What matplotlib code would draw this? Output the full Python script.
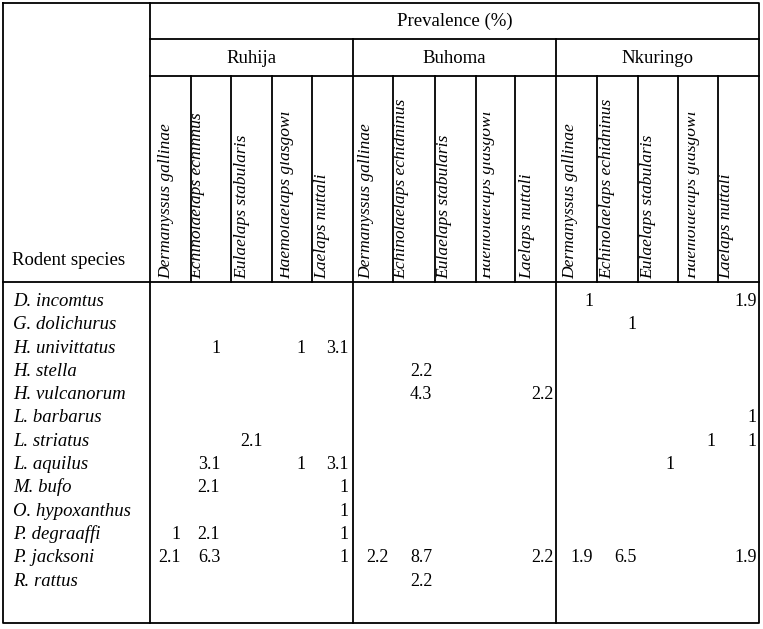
import matplotlib
matplotlib.use("Agg")
import matplotlib.pyplot as plt
import numpy as np
from matplotlib.transforms import Bbox, TransformedBbox

# ---------------- data ----------------
title = "Prevalence (%)"
row_header = "Rodent species"
sites = ["Ruhija", "Buhoma", "Nkuringo"]
mites = ["Dermanyssus gallinae", "Echinolaelaps echidninus", "Eulaelaps stabularis",
         "Haemolaelaps glasgowi", "Laelaps nuttali"]
mites_ruhija = ["Dermanyssus gallinae", "Echinolaelaps echinnus", "Eulaelaps stabularis",
                "Haemolaelaps glasgowi", "Laelaps nuttali"]
rodents = ["D. incomtus", "G. dolichurus", "H. univittatus", "H. stella", "H. vulcanorum",
           "L. barbarus", "L. striatus", "L. aquilus", "M. bufo", "O. hypoxanthus",
           "P. degraaffi", "P. jacksoni", "R. rattus"]
N = None
# columns: Dermanyssus, Echinolaelaps, Eulaelaps, Haemolaelaps, Laelaps
ruhija = [
    [N, N, N, N, N],
    [N, N, N, N, N],
    [N, 1, N, 1, 3.1],
    [N, N, N, N, N],
    [N, N, N, N, N],
    [N, N, N, N, N],
    [N, N, 2.1, N, N],
    [N, 3.1, N, 1, 3.1],
    [N, 2.1, N, N, 1],
    [N, N, N, N, 1],
    [1, 2.1, N, N, 1],
    [2.1, 6.3, N, N, 1],
    [N, N, N, N, N],
]
buhoma = [
    [N, N, N, N, N],
    [N, N, N, N, N],
    [N, N, N, N, N],
    [N, 2.2, N, N, N],
    [N, 4.3, N, N, 2.2],
    [N, N, N, N, N],
    [N, N, N, N, N],
    [N, N, N, N, N],
    [N, N, N, N, N],
    [N, N, N, N, N],
    [N, N, N, N, N],
    [2.2, 8.7, N, N, 2.2],
    [N, 2.2, N, N, N],
]
nkuringo = [
    [1, N, N, N, 1.9],
    [N, 1, N, N, N],
    [N, N, N, N, N],
    [N, N, N, N, N],
    [N, N, N, N, N],
    [N, N, N, N, 1],
    [N, N, N, 1, 1],
    [N, N, 1, N, N],
    [N, N, N, N, N],
    [N, N, N, N, N],
    [N, N, N, N, N],
    [1.9, 6.5, N, N, 1.9],
    [N, N, N, N, N],
]
site_data = [ruhija, buhoma, nkuringo]

# ---------------- layout (pixels) ----------------
W, H = 763, 629
x_left, x_right = 3, 759
y_top, y_bot = 3, 623
x_rod = 150
site_edges = [150, 353, 555.7, 759]
col_edges = [
    [150, 190.7, 230.7, 271.7, 311.7, 352.7],
    [352.7, 393.3, 435, 475.7, 515, 555.7],
    [555.7, 597.3, 638.3, 677.7, 718.3, 759],
]
y_prev = 39
y_site = 76
y_head = 282
# baseline offset of rotated label from column left edge, and clip offset
lab_base = [
    [20, 11, 16, 18, 15],
    [18, 12, 13, 15, 16],
    [19, 14, 14, 18, 12],
]
lab_clip = [
    [1, 0.5, 1, 8.5, 1],
    [1, 0.5, 1, 7.5, 1],
    [1, 0.5, 1, 10.5, 1],
]
num_right = [
    [10, 10.5, 8.5, 6.5, 4],
    [5, 2.5, 3, 3, 2.5],
    [4, 2, 3, 3, 2],
]
row0 = 300
drow = 23.3

serif = ["Liberation Serif", "DejaVu Serif"]
lw = 1.3
fs_big = 13.5
fs_lab = 12.6
fs_num = 13

fig = plt.figure(figsize=(W / 100, H / 100), dpi=100)
ax = fig.add_axes([0, 0, 1, 1])
ax.set_xlim(0, W)
ax.set_ylim(H, 0)
ax.axis("off")

k = dict(color="black", lw=lw, solid_capstyle="projecting")
# outer border
ax.plot([x_left, x_right, x_right, x_left, x_left], [y_top, y_top, y_bot, y_bot, y_top], **k)
ax.plot([x_rod, x_rod], [y_top, y_bot], **k)
ax.plot([x_rod, x_right], [y_prev, y_prev], **k)
ax.plot([x_rod, x_right], [y_site, y_site], **k)
ax.plot([x_left, x_right], [y_head, y_head], **k)
for e in site_edges[1:-1]:
    ax.plot([e, e], [y_prev, y_bot], **k)
for ce in col_edges:
    for e in ce[1:-1]:
        ax.plot([e, e], [y_site, y_head], **k)

# titles
ax.text((x_rod + x_right) / 2, 26, title, ha="center", va="baseline",
        family=serif, fontsize=fs_big)
for s, name in enumerate(sites):
    ax.text((site_edges[s] + site_edges[s + 1]) / 2, 63, name, ha="center",
            va="baseline", family=serif, fontsize=fs_big)
ax.text(12, 265, row_header, ha="left", va="baseline", family=serif, fontsize=fs_big)

# mite labels
for s in range(3):
    labels = mites_ruhija if s == 0 else mites
    for c, lab in enumerate(labels):
        x0 = col_edges[s][c]
        t = ax.text(x0 + lab_base[s][c], 279, lab, rotation=90, rotation_mode="anchor",
                    ha="left", va="baseline", family=serif, style="italic",
                    fontsize=fs_lab, clip_on=True)
        bb = Bbox.from_extents(x0 + lab_clip[s][c], y_site + 1,
                               col_edges[s][c + 1] - 1, y_head - 1)
        t.set_clip_box(TransformedBbox(bb, ax.transData))
        t.set_clip_path(None)

# rodent labels
for i, r in enumerate(rodents):
    ax.text(13, row0 + i * drow + 6, r, ha="left", va="baseline", family=serif,
            style="italic", fontsize=fs_big)

# values
for s, data in enumerate(site_data):
    for i, row in enumerate(data):
        for c, v in enumerate(row):
            if v is None:
                continue
            ax.text(col_edges[s][c + 1] - num_right[s][c], row0 + i * drow + 6,
                    f"{v:g}", ha="right", va="baseline", family=serif, fontsize=fs_num)

fig.savefig("out.png", dpi=100)
